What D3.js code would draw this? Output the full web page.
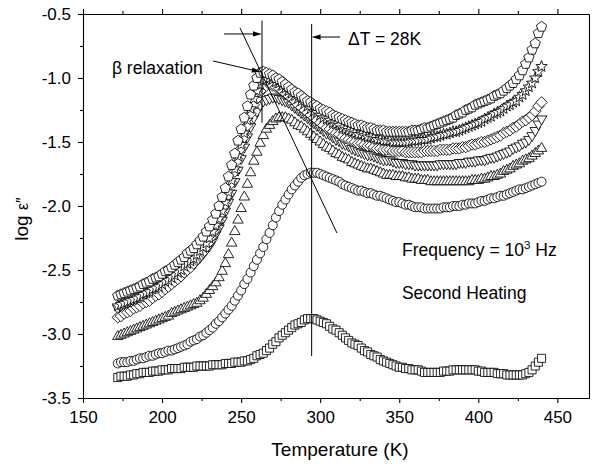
<!DOCTYPE html>
<html><head><meta charset="utf-8">
<script src="https://cdn.jsdelivr.net/npm/d3@7"></script>
<style>body{margin:0;background:#fff}svg{display:block}</style>
</head><body>
<svg id="chart" width="592" height="464"></svg>
<script>
const temps = [172,174,176,178,180,182,184,186,188,190,192,194,196,198,200,
202,204,206,208,210,212,214,216,218,220,222,224,226,228,230,
232,234,236,238,240,242,244,246,248,250,252,254,256,258,260,
262,264,266,268,270,272,274,276,278,280,282,284,286,288,290,
292,294,296,298,300,302,304,306,308,310,312,314,316,318,320,
322,324,326,328,330,332,334,336,338,340,342,344,346,348,350,
352,354,356,358,360,362,364,366,368,370,372,374,376,378,380,
382,384,386,388,390,392,394,396,398,400,402,404,406,408,410,
412,414,416,418,420,422,424,426,428,430,432,434,436,438,440];

const squares = [-3.34,-3.33,-3.33,-3.33,-3.32,-3.32,-3.31,-3.31,-3.30,-3.30,-3.30,-3.29,-3.29,-3.29,-3.28,
-3.28,-3.28,-3.27,-3.27,-3.27,-3.27,-3.26,-3.26,-3.26,-3.26,-3.25,-3.25,-3.25,-3.25,-3.25,
-3.24,-3.24,-3.24,-3.24,-3.23,-3.23,-3.23,-3.22,-3.22,-3.22,-3.21,-3.21,-3.20,-3.19,-3.17,
-3.16,-3.15,-3.13,-3.11,-3.08,-3.06,-3.03,-3.01,-2.99,-2.97,-2.95,-2.93,-2.92,-2.91,-2.89,
-2.88,-2.88,-2.88,-2.89,-2.90,-2.91,-2.92,-2.94,-2.96,-2.97,-2.99,-3.01,-3.03,-3.05,-3.07,
-3.08,-3.09,-3.11,-3.13,-3.14,-3.16,-3.17,-3.18,-3.20,-3.21,-3.22,-3.23,-3.24,-3.25,-3.26,
-3.26,-3.27,-3.27,-3.28,-3.28,-3.28,-3.29,-3.30,-3.30,-3.30,-3.30,-3.30,-3.30,-3.29,-3.29,
-3.29,-3.28,-3.28,-3.28,-3.28,-3.28,-3.28,-3.28,-3.28,-3.29,-3.29,-3.30,-3.30,-3.30,-3.30,
-3.31,-3.31,-3.31,-3.32,-3.32,-3.32,-3.32,-3.32,-3.32,-3.31,-3.30,-3.28,-3.25,-3.22,-3.19];

const circles = [-3.23,-3.22,-3.22,-3.22,-3.21,-3.21,-3.20,-3.19,-3.19,-3.18,-3.17,-3.17,-3.16,-3.15,-3.15,
-3.14,-3.13,-3.13,-3.12,-3.11,-3.10,-3.09,-3.08,-3.06,-3.05,-3.04,-3.02,-3.01,-2.99,-2.97,
-2.95,-2.92,-2.90,-2.87,-2.84,-2.81,-2.78,-2.74,-2.70,-2.66,-2.61,-2.57,-2.52,-2.47,-2.42,
-2.37,-2.32,-2.26,-2.21,-2.15,-2.09,-2.04,-1.99,-1.95,-1.91,-1.87,-1.84,-1.81,-1.78,-1.76,
-1.75,-1.74,-1.74,-1.74,-1.75,-1.76,-1.77,-1.78,-1.79,-1.80,-1.81,-1.83,-1.84,-1.85,-1.86,
-1.87,-1.88,-1.88,-1.89,-1.90,-1.90,-1.91,-1.92,-1.92,-1.93,-1.94,-1.95,-1.96,-1.97,-1.97,
-1.98,-1.99,-1.99,-2.00,-2.01,-2.01,-2.01,-2.02,-2.02,-2.02,-2.02,-2.02,-2.02,-2.01,-2.01,
-2.01,-2.00,-2.00,-2.00,-1.99,-1.99,-1.98,-1.98,-1.98,-1.97,-1.96,-1.96,-1.95,-1.94,-1.94,
-1.93,-1.92,-1.92,-1.91,-1.90,-1.89,-1.88,-1.87,-1.87,-1.86,-1.85,-1.84,-1.83,-1.82,-1.81];

const trianglesUp = [-3.02,-3.01,-3.00,-2.99,-2.98,-2.97,-2.96,-2.95,-2.94,-2.93,-2.92,-2.91,-2.90,-2.89,-2.88,
-2.87,-2.86,-2.84,-2.83,-2.82,-2.81,-2.80,-2.79,-2.78,-2.77,-2.76,-2.74,-2.72,-2.69,-2.66,
-2.63,-2.60,-2.56,-2.51,-2.45,-2.38,-2.29,-2.20,-2.11,-2.02,-1.93,-1.83,-1.74,-1.65,-1.58,
-1.51,-1.45,-1.40,-1.37,-1.34,-1.32,-1.31,-1.31,-1.31,-1.32,-1.33,-1.35,-1.37,-1.38,-1.40,
-1.42,-1.44,-1.46,-1.48,-1.50,-1.52,-1.54,-1.55,-1.57,-1.59,-1.60,-1.62,-1.63,-1.64,-1.66,
-1.67,-1.68,-1.69,-1.70,-1.71,-1.71,-1.72,-1.73,-1.74,-1.75,-1.76,-1.76,-1.76,-1.77,-1.77,
-1.77,-1.78,-1.78,-1.79,-1.79,-1.79,-1.80,-1.80,-1.80,-1.81,-1.81,-1.81,-1.81,-1.81,-1.81,
-1.81,-1.81,-1.81,-1.81,-1.81,-1.81,-1.81,-1.80,-1.80,-1.80,-1.79,-1.79,-1.78,-1.77,-1.77,
-1.76,-1.75,-1.73,-1.72,-1.71,-1.69,-1.68,-1.67,-1.65,-1.64,-1.63,-1.61,-1.59,-1.57,-1.55];

const trianglesDown = [-2.80,-2.79,-2.78,-2.77,-2.76,-2.75,-2.74,-2.73,-2.71,-2.70,-2.69,-2.67,-2.66,-2.65,-2.63,
-2.61,-2.60,-2.58,-2.57,-2.55,-2.53,-2.51,-2.49,-2.47,-2.45,-2.42,-2.40,-2.37,-2.34,-2.31,
-2.27,-2.22,-2.17,-2.11,-2.04,-1.97,-1.90,-1.81,-1.72,-1.63,-1.54,-1.46,-1.38,-1.31,-1.26,
-1.21,-1.18,-1.17,-1.16,-1.15,-1.15,-1.16,-1.17,-1.18,-1.19,-1.21,-1.23,-1.25,-1.27,-1.29,
-1.31,-1.33,-1.35,-1.37,-1.39,-1.41,-1.43,-1.44,-1.46,-1.48,-1.49,-1.51,-1.52,-1.53,-1.55,
-1.56,-1.57,-1.58,-1.59,-1.60,-1.60,-1.61,-1.62,-1.63,-1.64,-1.64,-1.64,-1.65,-1.66,-1.66,
-1.66,-1.67,-1.67,-1.67,-1.68,-1.68,-1.68,-1.68,-1.68,-1.68,-1.68,-1.68,-1.67,-1.67,-1.67,
-1.67,-1.67,-1.67,-1.66,-1.66,-1.66,-1.65,-1.65,-1.65,-1.64,-1.64,-1.64,-1.63,-1.62,-1.62,
-1.61,-1.60,-1.59,-1.58,-1.57,-1.55,-1.54,-1.53,-1.51,-1.50,-1.48,-1.45,-1.41,-1.36,-1.32];

const diamonds = [-2.87,-2.86,-2.84,-2.83,-2.82,-2.80,-2.79,-2.78,-2.76,-2.75,-2.74,-2.72,-2.70,-2.69,-2.67,
-2.65,-2.63,-2.61,-2.59,-2.57,-2.55,-2.52,-2.50,-2.48,-2.45,-2.42,-2.39,-2.36,-2.32,-2.28,
-2.23,-2.18,-2.12,-2.06,-1.99,-1.91,-1.82,-1.73,-1.64,-1.55,-1.46,-1.37,-1.28,-1.21,-1.16,
-1.11,-1.08,-1.06,-1.05,-1.06,-1.07,-1.08,-1.10,-1.12,-1.14,-1.16,-1.18,-1.21,-1.23,-1.25,
-1.27,-1.29,-1.31,-1.33,-1.35,-1.37,-1.39,-1.40,-1.42,-1.43,-1.44,-1.46,-1.47,-1.48,-1.49,
-1.50,-1.51,-1.51,-1.52,-1.53,-1.53,-1.54,-1.55,-1.55,-1.56,-1.56,-1.56,-1.57,-1.57,-1.57,
-1.57,-1.58,-1.58,-1.58,-1.58,-1.58,-1.58,-1.57,-1.57,-1.57,-1.57,-1.57,-1.56,-1.56,-1.56,
-1.56,-1.55,-1.55,-1.55,-1.54,-1.54,-1.53,-1.52,-1.52,-1.51,-1.50,-1.50,-1.49,-1.48,-1.47,
-1.46,-1.45,-1.43,-1.42,-1.41,-1.39,-1.38,-1.36,-1.34,-1.33,-1.31,-1.29,-1.26,-1.22,-1.19];

const stars = [-2.78,-2.77,-2.76,-2.75,-2.74,-2.73,-2.72,-2.71,-2.69,-2.68,-2.67,-2.65,-2.64,-2.63,-2.61,
-2.59,-2.58,-2.56,-2.54,-2.52,-2.50,-2.47,-2.45,-2.43,-2.41,-2.38,-2.35,-2.32,-2.29,-2.25,
-2.20,-2.15,-2.10,-2.04,-1.97,-1.89,-1.80,-1.71,-1.61,-1.52,-1.43,-1.33,-1.24,-1.16,-1.10,
-1.05,-1.02,-1.01,-1.00,-1.01,-1.03,-1.04,-1.06,-1.08,-1.10,-1.12,-1.14,-1.16,-1.18,-1.20,
-1.22,-1.24,-1.26,-1.27,-1.29,-1.31,-1.32,-1.33,-1.35,-1.36,-1.37,-1.39,-1.40,-1.41,-1.42,
-1.43,-1.44,-1.44,-1.45,-1.46,-1.46,-1.47,-1.48,-1.48,-1.49,-1.49,-1.49,-1.50,-1.50,-1.50,
-1.50,-1.50,-1.50,-1.49,-1.49,-1.49,-1.48,-1.48,-1.48,-1.47,-1.46,-1.46,-1.45,-1.44,-1.44,
-1.43,-1.42,-1.42,-1.41,-1.40,-1.39,-1.38,-1.37,-1.36,-1.35,-1.34,-1.32,-1.31,-1.30,-1.28,
-1.27,-1.26,-1.24,-1.22,-1.21,-1.19,-1.18,-1.15,-1.13,-1.10,-1.07,-1.04,-1.00,-0.95,-0.91];

const pentagons = [-2.70,-2.69,-2.68,-2.67,-2.66,-2.65,-2.64,-2.63,-2.61,-2.60,-2.59,-2.57,-2.56,-2.55,-2.53,
-2.51,-2.50,-2.48,-2.46,-2.44,-2.42,-2.40,-2.37,-2.35,-2.33,-2.30,-2.27,-2.24,-2.20,-2.16,
-2.11,-2.06,-2.00,-1.93,-1.86,-1.77,-1.68,-1.59,-1.49,-1.40,-1.31,-1.22,-1.13,-1.06,-1.00,
-0.96,-0.95,-0.96,-0.97,-0.98,-1.00,-1.01,-1.03,-1.05,-1.07,-1.09,-1.11,-1.12,-1.14,-1.16,
-1.18,-1.19,-1.21,-1.22,-1.24,-1.25,-1.26,-1.27,-1.29,-1.30,-1.31,-1.32,-1.33,-1.34,-1.35,
-1.36,-1.37,-1.37,-1.38,-1.39,-1.39,-1.40,-1.41,-1.41,-1.41,-1.42,-1.42,-1.42,-1.42,-1.42,
-1.42,-1.42,-1.42,-1.41,-1.41,-1.41,-1.40,-1.39,-1.39,-1.38,-1.37,-1.36,-1.35,-1.34,-1.33,
-1.32,-1.31,-1.29,-1.28,-1.27,-1.25,-1.24,-1.23,-1.21,-1.20,-1.19,-1.18,-1.17,-1.16,-1.14,
-1.13,-1.12,-1.10,-1.08,-1.06,-1.04,-1.01,-0.98,-0.94,-0.89,-0.84,-0.78,-0.73,-0.65,-0.60];

const xTicks = [150,200,250,300,350,400,450];
const xTickLabels = ["150","200","250","300","350","400","450"];
const xMinorTicks = [175,225,275,325,375,425];
const yTicks = [-3.5,-3.0,-2.5,-2.0,-1.5,-1.0,-0.5];
const yTickLabels = ["-3.5","-3.0","-2.5","-2.0","-1.5","-1.0","-0.5"];
const yMinorTicks = [-3.25,-2.75,-2.25,-1.75,-1.25,-0.75];

const FONT = "'Liberation Sans', Arial, Helvetica, sans-serif";
const svg = d3.select("#chart");
const x = d3.scaleLinear().domain([150,470]).range([83,589]);
const y = d3.scaleLinear().domain([-3.5,-0.5]).range([398,14]);

// symbol types (size = radius^2)
function polygon(n, rot){
  return {draw(ctx, size){
    const r = Math.sqrt(size);
    for(let i=0;i<n;i++){
      const a = rot + 2*Math.PI*i/n;
      const px = r*Math.sin(a), py = -r*Math.cos(a);
      if(i===0) ctx.moveTo(px,py); else ctx.lineTo(px,py);
    }
    ctx.closePath();
  }};
}
const circleSym = {draw(ctx,size){const r=Math.sqrt(size);ctx.moveTo(r,0);ctx.arc(0,0,r,0,2*Math.PI);}};
const starSym = {draw(ctx,size){
  const R=Math.sqrt(size), r=R*0.42;
  for(let i=0;i<10;i++){
    const a=Math.PI*i/5, rr=(i%2===0)?R:r;
    const px=rr*Math.sin(a), py=-rr*Math.cos(a);
    if(i===0) ctx.moveTo(px,py); else ctx.lineTo(px,py);
  }
  ctx.closePath();
}};

const series = [
  {vals: squares,       type: polygon(4, Math.PI/4), r: 5.7},
  {vals: circles,       type: circleSym,             r: 4.5},
  {vals: trianglesUp,   type: polygon(3, 0),         r: 6.0},
  {vals: trianglesDown, type: polygon(3, Math.PI),   r: 6.0},
  {vals: diamonds,      type: polygon(4, 0),         r: 5.7},
  {vals: stars,         type: starSym,               r: 6.0},
  {vals: pentagons,     type: polygon(5, 0),         r: 5.4}
];

const plot = svg.append("g");
series.forEach(s => {
  const sym = d3.symbol().type(s.type).size(s.r*s.r);
  plot.append("g").selectAll("path")
    .data(temps.map((t,i)=>[t, s.vals[i]]))
    .join("path")
    .attr("transform", d => `translate(${x(d[0])},${y(d[1])})`)
    .attr("d", sym)
    .attr("fill", "#fff")
    .attr("stroke", "#000")
    .attr("stroke-width", 0.85);
});

// axes
function styleAxis(g, fs){
  g.select(".domain").attr("stroke","#000").attr("stroke-width",1.1);
  g.selectAll(".tick line").attr("stroke","#000").attr("stroke-width",1.1);
  g.selectAll("text").attr("font-family",FONT).attr("font-size",fs).attr("fill","#000");
}
const gB = svg.append("g").attr("transform","translate(0,398)")
  .call(d3.axisBottom(x).tickValues(xTicks).tickFormat((d,i)=>xTickLabels[i]).tickSize(5).tickPadding(8).tickSizeOuter(0));
styleAxis(gB, 17);
const gBm = svg.append("g").attr("transform","translate(0,398)")
  .call(d3.axisBottom(x).tickValues(xMinorTicks).tickFormat("").tickSize(3).tickSizeOuter(0));
gBm.select(".domain").remove(); styleAxis(gBm,17);

const gT = svg.append("g").attr("transform","translate(0,14)")
  .call(d3.axisTop(x).tickValues(xTicks).tickFormat("").tickSize(5).tickSizeOuter(0));
styleAxis(gT,17);
const gTm = svg.append("g").attr("transform","translate(0,14)")
  .call(d3.axisTop(x).tickValues(xMinorTicks).tickFormat("").tickSize(3).tickSizeOuter(0));
gTm.select(".domain").remove(); styleAxis(gTm,17);

const gL = svg.append("g").attr("transform","translate(83,0)")
  .call(d3.axisLeft(y).tickValues(yTicks).tickFormat((d,i)=>yTickLabels[i]).tickSize(5).tickPadding(7).tickSizeOuter(0));
styleAxis(gL, 17);
const gLm = svg.append("g").attr("transform","translate(83,0)")
  .call(d3.axisLeft(y).tickValues(yMinorTicks).tickFormat("").tickSize(3).tickSizeOuter(0));
gLm.select(".domain").remove(); styleAxis(gLm,17);

const gR = svg.append("g").attr("transform","translate(589,0)")
  .call(d3.axisRight(y).tickValues([]).tickSizeOuter(0));
styleAxis(gR,17);

// axis titles
svg.append("text").attr("x", 340).attr("y", 456).attr("text-anchor","middle")
  .attr("font-family",FONT).attr("font-size",19).attr("fill","#000").text("Temperature (K)");
const yt = svg.append("text").attr("transform","translate(28,219) rotate(-90)").attr("text-anchor","middle")
  .attr("font-family",FONT).attr("font-size",19).attr("fill","#000");
yt.append("tspan").text("log ");
yt.append("tspan").attr("font-size",16).text("ε″");

// annotations (in data coordinates)
const ann = svg.append("g").attr("stroke","#000").attr("stroke-width",1);
function line(t1,v1,t2,v2){ ann.append("line").attr("x1",x(t1)).attr("y1",y(v1)).attr("x2",x(t2)).attr("y2",y(v2)); }
function arrow(t1,v1,t2,v2){
  const x1=x(t1),y1=y(v1),x2=x(t2),y2=y(v2);
  const a=Math.atan2(y2-y1,x2-x1), L=9, w=2.6;
  const bx=x2-L*Math.cos(a), by=y2-L*Math.sin(a);
  ann.append("line").attr("x1",x1).attr("y1",y1).attr("x2",bx).attr("y2",by);
  ann.append("path").attr("stroke","none").attr("fill","#000")
    .attr("d",`M${x2},${y2}L${bx+w*Math.sin(a)},${by-w*Math.cos(a)}L${bx-w*Math.sin(a)},${by+w*Math.cos(a)}Z`);
}
line(263.2,-0.552,263.2,-1.349);
line(294.6,-0.578,294.6,-3.172);
line(249.3,-0.609,310.6,-2.211);
arrow(239.2,-0.656,263.2,-0.656);
arrow(312.5,-0.68,294.6,-0.68);
arrow(232.2,-0.867,262.4,-0.953);

function label(t,v,txt){
  return svg.append("text").attr("x",x(t)).attr("y",y(v)).attr("font-family",FONT)
    .attr("font-size",17.5).attr("fill","#000").text(txt);
}
label(317.6,-0.742,"ΔT = 28K");
label(168.3,-0.969,"β relaxation");
const fq = label(351.7,-2.39,"Frequency = 10");
fq.append("tspan").attr("dy",-7).attr("font-size",11.5).text("3");
fq.append("tspan").attr("dy",7).text(" Hz");
label(351.7,-2.727,"Second Heating");
</script>
</body></html>
